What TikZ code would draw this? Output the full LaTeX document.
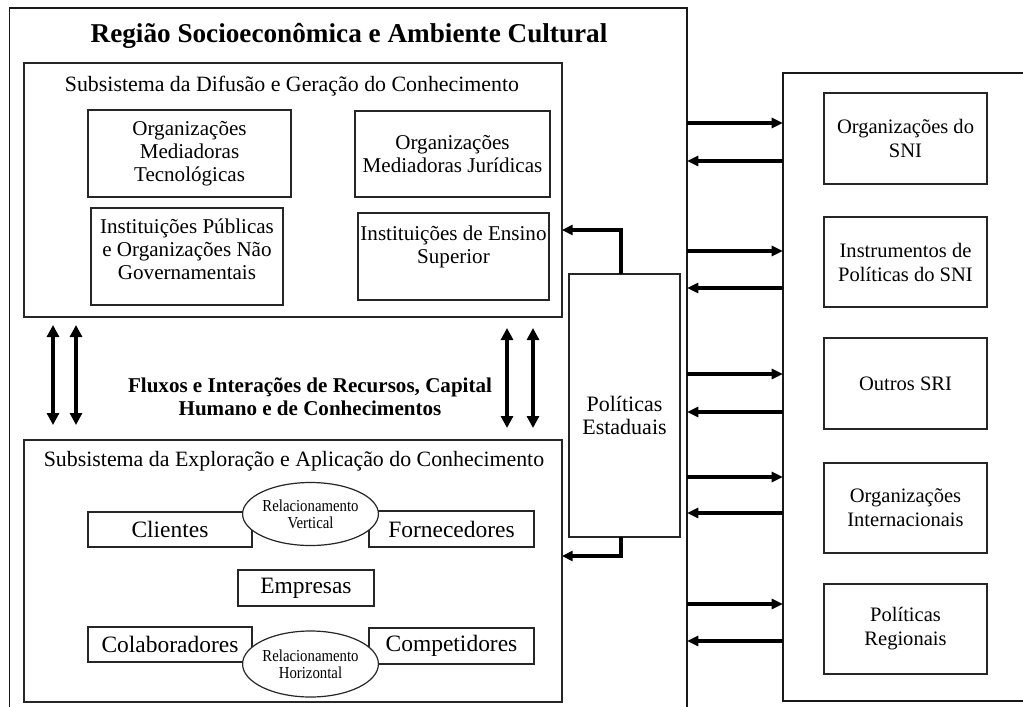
\documentclass[tikz,border=0pt]{standalone}
\usepackage{fontspec}
\setmainfont{Liberation Serif}
\newfontfamily\condserif[FakeStretch=0.88]{Liberation Serif}
\usetikzlibrary{arrows.meta,shapes.geometric,calc}
\newcommand\pxu{0.75pt}
\tikzset{
  box/.style={draw=black!85, line width=0.9pt, inner sep=0pt, outer sep=0pt, align=center},
  frame/.style={draw=black!90, line width=0.9pt, inner sep=0pt, outer sep=0pt},
  ell/.style={ellipse, draw=black!85, line width=0.9pt, inner sep=0pt, outer sep=0pt, align=center,
    font=\condserif\fontsize{12.6}{12.6}\selectfont, fill=white},
  txt/.style={align=center, inner sep=0pt, font=\fontsize{15.8}{17.3}\selectfont},
  big/.style={font=\fontsize{17.6}{20}\selectfont},
  subtitle/.style={inner sep=0pt, font=\fontsize{16.4}{19}\selectfont},
  rtxt/.style={font=\fontsize{15.4}{18}\selectfont},
  arr/.style={line width=2.5pt, -{Triangle[length=8.5pt,width=7.5pt]}},
  varr/.style={line width=2.3pt, {Triangle[length=9pt,width=9pt]}-{Triangle[length=9pt,width=9pt]}},
  elbow/.style={line width=2.3pt, -{Triangle[length=8pt,width=7.5pt]}}
}
\begin{document}
\begin{tikzpicture}[x=0.75pt,y=-0.75pt]
\useasboundingbox (0,0) rectangle (1023,706);
\fill[white] (0,0) rectangle (1023,706);

% outer frames
\node[frame, minimum width=677.5*\pxu, minimum height=720*\pxu] (regiao) at (348.25,368) {};
\node[frame, minimum width=260*\pxu, minimum height=628*\pxu] (sni) at (913,387) {};

\node[inner sep=0pt, font=\fontsize{20.4}{24}\selectfont\bfseries] (title) at (349,36)
  {Região Socioeconômica e Ambiente Cultural};

% top subsystem
\node[box, minimum width=538*\pxu, minimum height=254*\pxu] (difusao) at (293,190) {};
\node[subtitle] (difusaoT) at (292,86) {Subsistema da Difusão e Geração do Conhecimento};
\node[box, txt, minimum width=203*\pxu, minimum height=87*\pxu] (omt) at (189.5,153.5) {Organizações\\Mediadoras\\Tecnológicas};
\node[box, txt, minimum width=195*\pxu, minimum height=86*\pxu] (omj) at (452.5,154) {Organizações\\Mediadoras Jurídicas};
\node[box, minimum width=192*\pxu, minimum height=97*\pxu] (ipong) at (187,256.5) {};
\node[txt] (ipongT) at (187,249) {Instituições Públicas\\e Organizações Não\\Governamentais};
\node[box, minimum width=191*\pxu, minimum height=87*\pxu] (ies) at (453.5,256.5) {};
\node[txt] (iesT) at (453.5,247) {Instituições de Ensino\\Superior};

% bottom subsystem
\node[box, minimum width=538*\pxu, minimum height=262*\pxu] (exploracao) at (293,571) {};
\node[subtitle] (exploracaoT) at (294,461) {Subsistema da Exploração e Aplicação do Conhecimento};
\node[box, big, minimum width=164*\pxu, minimum height=35*\pxu] (clientes) at (170,529.5) {Clientes};
\node[box, big, minimum width=165*\pxu, minimum height=36*\pxu] (fornecedores) at (451.5,529) {Fornecedores};
\node[box, big, minimum width=136*\pxu, minimum height=36*\pxu] (empresas) at (306,588) {Empresas};
\node[box, big, minimum width=164*\pxu, minimum height=35*\pxu] (colaboradores) at (170,644.5) {Colaboradores};
\node[box, big, minimum width=165*\pxu, minimum height=36*\pxu] (competidores) at (451.5,646) {Competidores};
\node[ell, minimum width=117*\pxu, minimum height=63*\pxu] (relv) at (310.5,514) {Relacionamento\\Vertical};
\node[ell, minimum width=116*\pxu, minimum height=66*\pxu] (relh) at (310.5,664) {Relacionamento\\Horizontal};

% flows
\node[align=center, inner sep=0pt, font=\fontsize{15.8}{17}\selectfont\bfseries] (fluxos) at (310,397)
  {Fluxos e Interações de Recursos, Capital\\Humano e de Conhecimentos};
\draw[varr] ($(difusao.south west)+(29,8)$) -- ($(exploracao.north west)+(29,-15)$);
\draw[varr] ($(difusao.south west)+(52,8)$) -- ($(exploracao.north west)+(52,-15)$);
\draw[varr] ($(difusao.south west)+(483,11)$) -- ($(exploracao.north west)+(483,-12)$);
\draw[varr] ($(difusao.south west)+(509,11)$) -- ($(exploracao.north west)+(509,-12)$);

% state policies
\node[box, minimum width=111*\pxu, minimum height=263*\pxu] (politicas) at (624.5,405.5) {};
\node[align=center, inner sep=0pt, font=\fontsize{16.5}{17.3}\selectfont] (politicasT) at (624.5,415)
  {Políticas\\Estaduais};
\draw[elbow] ($(politicas.north)+(-3.5,0)$) |- (difusao.east |- 0,230);
\draw[elbow] ($(politicas.south)+(-3.5,0)$) |- (exploracao.east |- 0,556);

% right boxes
\node[box, rtxt, minimum width=163*\pxu, minimum height=91*\pxu] (orgsni) at (905.5,138.5) {Organizações do\\SNI};
\node[box, rtxt, minimum width=163*\pxu, minimum height=90*\pxu] (instr) at (905.5,262) {Instrumentos de\\Políticas do SNI};
\node[box, rtxt, minimum width=163*\pxu, minimum height=91*\pxu] (outros) at (905.5,383.5) {Outros SRI};
\node[box, rtxt, minimum width=163*\pxu, minimum height=90*\pxu] (orgint) at (905.5,508) {Organizações\\Internacionais};
\node[box, rtxt, minimum width=163*\pxu, minimum height=90*\pxu] (polreg) at (905.5,629) {Políticas\\Regionais};

\draw[arr] (regiao.east |- 0,123) -- (sni.west |- 0,123);
\draw[arr] (regiao.east |- 0,251) -- (sni.west |- 0,251);
\draw[arr] (regiao.east |- 0,374) -- (sni.west |- 0,374);
\draw[arr] (regiao.east |- 0,477) -- (sni.west |- 0,477);
\draw[arr] (regiao.east |- 0,604) -- (sni.west |- 0,604);
\draw[arr] (sni.west |- 0,161) -- (regiao.east |- 0,161);
\draw[arr] (sni.west |- 0,288) -- (regiao.east |- 0,288);
\draw[arr] (sni.west |- 0,412) -- (regiao.east |- 0,412);
\draw[arr] (sni.west |- 0,513) -- (regiao.east |- 0,513);
\draw[arr] (sni.west |- 0,641) -- (regiao.east |- 0,641);
\end{tikzpicture}
\end{document}
